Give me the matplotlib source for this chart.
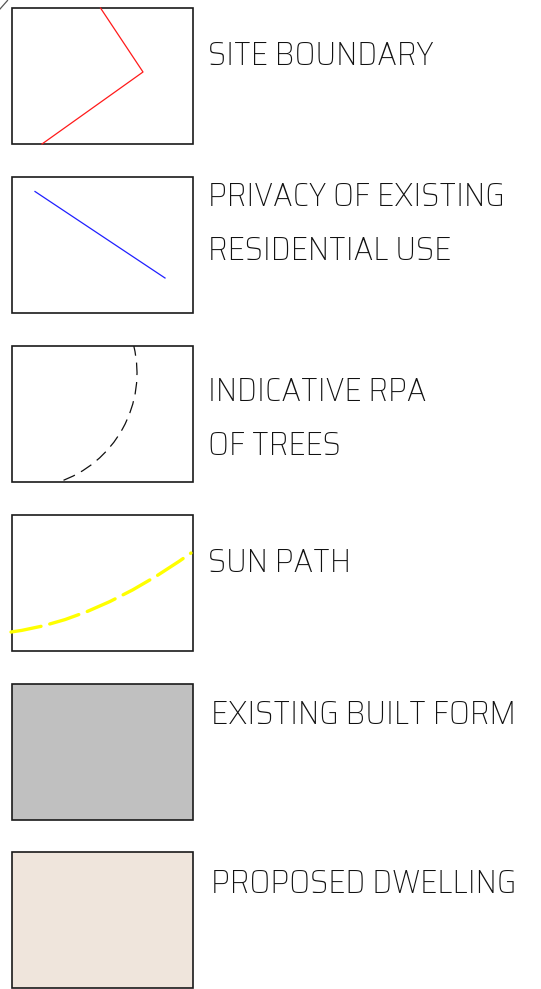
import matplotlib
matplotlib.use('Agg')
import matplotlib.pyplot as plt
from matplotlib.patches import Rectangle, Arc, PathPatch
from matplotlib.path import Path

plt.rcParams['lines.scale_dashes'] = False

# legend entries (text lines for each key)
labels = [
    ['SITE BOUNDARY'],
    ['PRIVACY OF EXISTING', 'RESIDENTIAL USE'],
    ['INDICATIVE RPA', 'OF TREES'],
    ['SUN PATH'],
    ['EXISTING BUILT FORM'],
    ['PROPOSED DWELLING'],
]
box_fill = ['white', 'white', 'white', 'white', '#c0c0c0', '#efe5dc']

# sample strokes inside the key boxes (picture pixels)
site_x = [100.5, 143, 42]
site_y = [8, 72, 144]
privacy_x = [35, 165]
privacy_y = [191.5, 278]
rpa_center = (22, 373)
rpa_radius = 115
rpa_angles = (-13.5, 71.5)
sun_x = [11, 96, 191]
sun_y = [632, 621, 553]

box_tops = [8, 177, 346, 515, 684, 852]
box_left, box_w, box_h = 11.5, 181.5, 136
text_x = [208, 208, 208, 208, 211, 211]
baselines = [[65], [206, 260], [401, 455], [572], [724], [893]]

fig = plt.figure(figsize=(5.41, 9.89), dpi=100)
ax = fig.add_axes([0, 0, 1, 1])
ax.set_xlim(0, 541)
ax.set_ylim(989, 0)
ax.axis('off')

# small stray stroke in the corner
ax.plot([0, 7.5], [9, 0.5], color='#555555', lw=0.9)

for i, top in enumerate(box_tops):
    ax.add_patch(Rectangle((box_left, top), box_w, box_h, facecolor=box_fill[i],
                           edgecolor='#1a1a1a', lw=1.2, zorder=1))
    for line, base in zip(labels[i], baselines[i]):
        ax.text(text_x[i], base, line, family=['Saira SemiCondensed', 'Saira Condensed', 'DejaVu Sans'],
                weight=250, fontsize=24, color='#111111', va='baseline', ha='left')

# site boundary
ax.plot(site_x, site_y, color='#ff1a1a', lw=0.9, zorder=2)
# privacy
ax.plot(privacy_x, privacy_y, color='#2020ff', lw=0.9, zorder=2)
# tree root protection area
ax.add_patch(Arc(rpa_center, 2 * rpa_radius, 2 * rpa_radius, theta1=rpa_angles[0],
                 theta2=rpa_angles[1], color='#111111', lw=0.9, linestyle=(2, (9, 5)), zorder=2))
# sun path
sun = Path(list(zip(sun_x, sun_y)), [Path.MOVETO, Path.CURVE3, Path.CURVE3])
ax.add_patch(PathPatch(sun, facecolor='none', edgecolor='#ffff00', lw=2.4,
                       linestyle=(0, (22, 6.5)), capstyle='round', zorder=2))

fig.savefig('out.png', dpi=100)
print('Plot saved')
